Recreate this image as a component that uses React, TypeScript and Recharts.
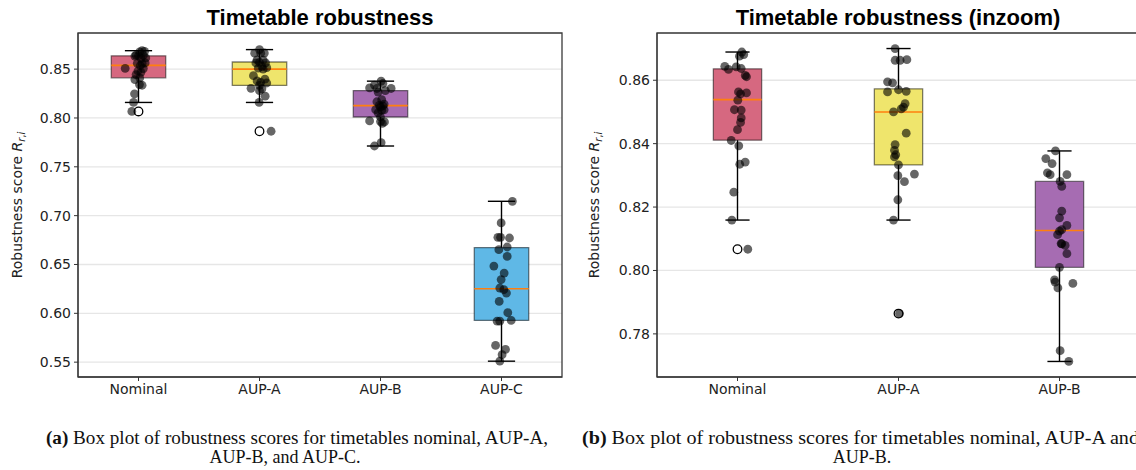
import {
  CartesianGrid,
  ComposedChart,
  ReferenceArea,
  ReferenceLine,
  Scatter,
  XAxis,
  YAxis,
} from "recharts";

const CATEGORIES = ["Nominal", "AUP-A", "AUP-B", "AUP-C"];
const BOX_COLORS = ["#d66880", "#efe56c", "#a66cb2", "#5fb8e6"];

// box statistics
const Q1 = [0.8411, 0.8333, 0.801, 0.5927];
const MEDIAN = [0.8539, 0.85, 0.8126, 0.6252];
const Q3 = [0.8636, 0.8573, 0.8281, 0.6673];
const WHISKER_LO = [0.8159, 0.8159, 0.7713, 0.551];
const WHISKER_HI = [0.8689, 0.87, 0.8377, 0.7147];
const FLIERS = [[0.8067], [0.7864], [], []];

// robustness scores per timetable
const NOMINAL = [
  0.8689, 0.8681, 0.8676, 0.8644, 0.8642, 0.8637, 0.8634, 0.8615, 0.8611,
  0.8563, 0.856, 0.8557, 0.8537, 0.8507, 0.8506, 0.8481, 0.8467, 0.8444,
  0.841, 0.8393, 0.8342, 0.8335, 0.8247, 0.8159, 0.8067,
];
const AUP_A = [
  0.87, 0.8665, 0.8663, 0.8663, 0.8595, 0.8592, 0.857, 0.8565, 0.8563,
  0.8526, 0.8515, 0.851, 0.85, 0.8433, 0.8397, 0.8379, 0.8365, 0.8358,
  0.8333, 0.8304, 0.8299, 0.828, 0.8223, 0.8159, 0.7864,
];
const AUP_B = [
  0.8377, 0.8353, 0.8337, 0.8308, 0.8302, 0.8302, 0.8281, 0.8265, 0.8187,
  0.8166, 0.8142, 0.8129, 0.8124, 0.8113, 0.8085, 0.8084, 0.8079, 0.8053,
  0.801, 0.797, 0.7963, 0.7959, 0.7945, 0.7747, 0.7713,
];
const AUP_C = [
  0.7147, 0.6925, 0.6778, 0.6778, 0.6771, 0.6679, 0.6652, 0.6583, 0.6484,
  0.6412, 0.6345, 0.6259, 0.6242, 0.6207, 0.6122, 0.6006, 0.592, 0.592,
  0.5927, 0.5671, 0.563, 0.5576, 0.551,
];

// horizontal jitter of each dot (category units), left figure
const JITTER_A_NOMINAL = [
  0.03, 0.05, 0.01, -0.02, 0.04, 0.0, -0.03, 0.06, 0.02, 0.055, -0.01, 0.03,
  0.015, -0.11, 0.04, -0.005, 0.02, -0.02, 0.01, -0.03, 0.008, 0.03, -0.033,
  -0.041, -0.055,
];
const JITTER_A_AUP_A = [
  0.0, 0.04, -0.04, 0.01, -0.02, 0.03, 0.0, 0.05, -0.03, 0.02, 0.06, -0.01,
  0.03, -0.05, 0.045, -0.02, 0.01, 0.06, 0.0, -0.07, 0.02, 0.0, 0.047, -0.003,
  0.096,
];
const JITTER_A_AUP_B = [
  0.005, 0.02, -0.05, -0.09, 0.088, -0.03, 0.04, -0.02, 0.01, -0.03, 0.03,
  -0.01, 0.02, 0.0, -0.04, 0.03, 0.01, -0.02, 0.0, -0.09, 0.0, 0.033, 0.015,
  0.005, -0.05,
];
const JITTER_A_AUP_C = [
  0.09, -0.003, -0.03, -0.008, 0.066, 0.047, -0.022, 0.047, -0.063, 0.022,
  -0.003, -0.014, 0.019, 0.041, -0.019, 0.052, -0.036, -0.014, 0.08, -0.049,
  0.033, 0.005, -0.014,
];
// right figure (inzoom)
const JITTER_B_NOMINAL = [
  0.027, 0.039, 0.012, -0.079, -0.008, 0.023, -0.056, 0.048, 0.056, 0.006,
  0.056, 0.019, 0.002, -0.019, 0.023, 0.023, 0.019, 0, -0.039, 0.008, 0.048,
  0.014, -0.023, -0.035, 0.064,
];
const JITTER_B_AUP_A = [
  -0.021, 0.052, -0.021, 0.01, -0.068, -0.037, 0, 0.048, -0.068, 0.041, 0.031,
  0.017, -0.031, 0.048, -0.021, -0.025, -0.017, -0.025, 0, 0.099, -0.004,
  0.037, -0.004, -0.031, 0.006,
];
const JITTER_B_AUP_B = [
  -0.025, -0.085, -0.046, -0.075, -0.058, 0.046, 0.004, 0.014, 0.014, 0,
  0.046, 0.014, 0, -0.012, 0.01, 0.014, 0.035, 0.046, 0, -0.031, -0.027,
  0.083, -0.01, 0.004, 0.058,
];

const TICKS_A = [0.55, 0.6, 0.65, 0.7, 0.75, 0.8, 0.85];
const TICKS_B = [0.78, 0.8, 0.82, 0.84, 0.86];

const FONT = "DejaVu Sans, sans-serif";
const TITLE_FONT = "Liberation Sans, Arial, sans-serif";
const SERIF = "Liberation Serif, DejaVu Serif, serif";

interface BoxChartProps {
  count: number;
  values: number[][];
  jitter: number[][];
  halfWidth: number;
  domain: [number, number];
  ticks: number[];
  width: number;
  yAxisWidth: number;
  rightMargin: number;
}

function Dot(props: any) {
  return <circle cx={props.cx} cy={props.cy} r={4.4} fill="#000" fillOpacity={0.6} />;
}

function Flier(props: any) {
  return (
    <circle cx={props.cx} cy={props.cy} r={4.3} fill="none" stroke="#000" strokeWidth={1.3} />
  );
}

function BoxChart({
  count,
  values,
  jitter,
  halfWidth,
  domain,
  ticks,
  width,
  yAxisWidth,
  rightMargin,
}: BoxChartProps) {
  const positions = Array.from({ length: count }, (_, i) => i + 1);
  const dots = values.flatMap((vals, g) =>
    vals.map((v, k) => ({ x: g + 1 + jitter[g][k], y: v }))
  );
  const fliers = positions.flatMap((p, g) => FLIERS[g].map((v) => ({ x: p, y: v })));
  const capHalf = halfWidth / 2;

  return (
    <ComposedChart
      width={width}
      height={400}
      margin={{ top: 33, right: rightMargin, left: 0, bottom: 0 }}
    >
      <CartesianGrid vertical={false} stroke="#e6e6e6" strokeWidth={1.3} />
      <XAxis
        dataKey="x"
        type="number"
        domain={[0.5, count + 0.5]}
        ticks={positions}
        tickFormatter={(v: number) => CATEGORIES[v - 1]}
        allowDataOverflow
        height={23}
        tickSize={4}
        tickMargin={3}
        stroke="#333"
        tick={{ fill: "#222", fontSize: 14, fontFamily: FONT }}
      />
      <YAxis
        dataKey="y"
        type="number"
        domain={domain}
        ticks={ticks}
        tickFormatter={(v: number) => v.toFixed(2)}
        allowDataOverflow
        width={yAxisWidth}
        tickSize={4}
        tickMargin={3}
        stroke="#333"
        tick={{ fill: "#222", fontSize: 14, fontFamily: FONT }}
      />
      {positions.map((p, g) => (
        <ReferenceArea
          key={`box-${g}`}
          x1={p - halfWidth}
          x2={p + halfWidth}
          y1={Q1[g]}
          y2={Q3[g]}
          fill={BOX_COLORS[g]}
          fillOpacity={1}
          stroke="#000"
          strokeOpacity={0.5}
          strokeWidth={1.3}
        />
      ))}
      {positions.map((p, g) => [
        <ReferenceLine
          key={`wl-${g}`}
          segment={[{ x: p, y: WHISKER_LO[g] }, { x: p, y: Q1[g] }]}
          stroke="#000"
          strokeWidth={1.4}
        />,
        <ReferenceLine
          key={`wh-${g}`}
          segment={[{ x: p, y: Q3[g] }, { x: p, y: WHISKER_HI[g] }]}
          stroke="#000"
          strokeWidth={1.4}
        />,
        <ReferenceLine
          key={`cl-${g}`}
          segment={[{ x: p - capHalf, y: WHISKER_LO[g] }, { x: p + capHalf, y: WHISKER_LO[g] }]}
          stroke="#000"
          strokeWidth={1.4}
        />,
        <ReferenceLine
          key={`ch-${g}`}
          segment={[{ x: p - capHalf, y: WHISKER_HI[g] }, { x: p + capHalf, y: WHISKER_HI[g] }]}
          stroke="#000"
          strokeWidth={1.4}
        />,
        <ReferenceLine
          key={`md-${g}`}
          segment={[{ x: p - halfWidth, y: MEDIAN[g] }, { x: p + halfWidth, y: MEDIAN[g] }]}
          stroke="#ff7f0e"
          strokeWidth={1.6}
        />,
      ])}
      <Scatter data={fliers} dataKey="y" shape={<Flier />} isAnimationActive={false} />
      <Scatter data={dots} dataKey="y" shape={<Dot />} isAnimationActive={false} />
      <ReferenceArea
        x1={0.5}
        x2={count + 0.5}
        y1={domain[0]}
        y2={domain[1]}
        fill="none"
        stroke="#3a3a3a"
        strokeWidth={1.3}
      />
    </ComposedChart>
  );
}

function YLabel({ x, y }: { x: number; y: number }) {
  return (
    <text
      transform={`translate(${x},${y}) rotate(-90)`}
      textAnchor="middle"
      fontFamily={FONT}
      fontSize={14}
      fill="#222"
    >
      Robustness score <tspan fontStyle="italic">R</tspan>
      <tspan fontSize={10} dy={3} fontStyle="italic">
        r
      </tspan>
      <tspan fontSize={10}>,</tspan>
      <tspan fontSize={10} fontStyle="italic">
        i
      </tspan>
    </text>
  );
}

export default function App() {
  return (
    <div
      style={{
        position: "absolute",
        left: 0,
        top: 0,
        width: 1136,
        height: 470,
        overflow: "hidden",
        background: "#fff",
      }}
    >
      <div style={{ position: "absolute", left: 0, top: 0 }}>
        <BoxChart
          count={4}
          values={[NOMINAL, AUP_A, AUP_B, AUP_C]}
          jitter={[JITTER_A_NOMINAL, JITTER_A_AUP_A, JITTER_A_AUP_B, JITTER_A_AUP_C]}
          halfWidth={0.225}
          domain={[0.5348, 0.887]}
          ticks={TICKS_A}
          width={570}
          yAxisWidth={78}
          rightMargin={8}
        />
      </div>
      <div style={{ position: "absolute", left: 570, top: 0 }}>
        <BoxChart
          count={3}
          values={[NOMINAL, AUP_A, AUP_B]}
          jitter={[JITTER_B_NOMINAL, JITTER_B_AUP_A, JITTER_B_AUP_B]}
          halfWidth={0.15}
          domain={[0.7664, 0.8749]}
          ticks={TICKS_B}
          width={580}
          yAxisWidth={87}
          rightMargin={10}
        />
      </div>
      <svg
        width={1136}
        height={470}
        style={{ position: "absolute", left: 0, top: 0, pointerEvents: "none" }}
      >
        <text x={320} y={25} textAnchor="middle" fontFamily={TITLE_FONT} fontWeight="bold" fontSize={22} fill="#000">
          Timetable robustness
        </text>
        <text x={898} y={25} textAnchor="middle" fontFamily={TITLE_FONT} fontWeight="bold" fontSize={22} fill="#000">
          Timetable robustness (inzoom)
        </text>
        <YLabel x={22} y={205} />
        <YLabel x={599} y={205} />
        <text
          x={46}
          y={444}
          fontFamily={SERIF}
          fontSize={18}
          fill="#111"
          textLength={502}
          lengthAdjust="spacingAndGlyphs"
        >
          <tspan fontWeight="bold">(a)</tspan> Box plot of robustness scores for timetables nominal, AUP-A,
        </text>
        <text x={285} y={463} textAnchor="middle" fontFamily={SERIF} fontSize={18} fill="#111">
          AUP-B, and AUP-C.
        </text>
        <text
          x={582}
          y={444}
          fontFamily={SERIF}
          fontSize={18}
          fill="#111"
          textLength={557}
          lengthAdjust="spacingAndGlyphs"
        >
          <tspan fontWeight="bold">(b)</tspan> Box plot of robustness scores for timetables nominal, AUP-A and
        </text>
        <text x={862} y={463} textAnchor="middle" fontFamily={SERIF} fontSize={18} fill="#111">
          AUP-B.
        </text>
      </svg>
    </div>
  );
}
